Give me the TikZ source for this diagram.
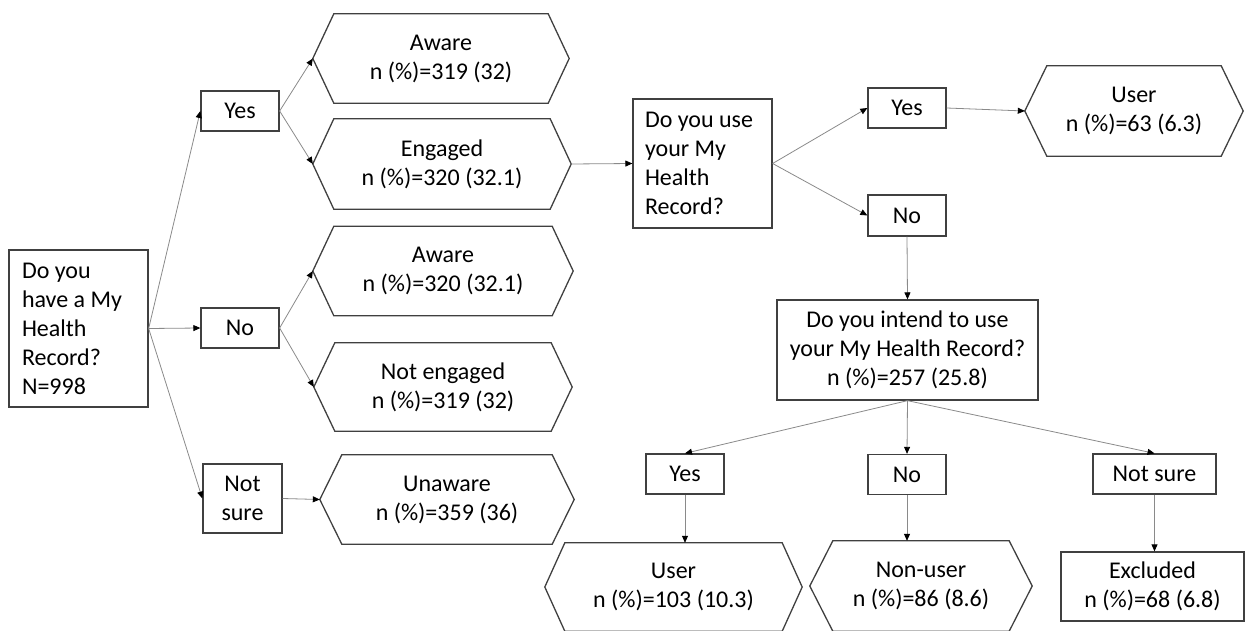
\documentclass[tikz,border=0pt]{standalone}
\usepackage{fontspec}
\setmainfont{Carlito}
\usetikzlibrary{arrows.meta}
\definecolor{boxc}{HTML}{404040}
\definecolor{linec}{HTML}{8A8A8A}
\newcommand\hexframe[2]{\draw[hexline] (#1.west) -- ([xshift=#2pt]#1.north west) -- ([xshift=-#2pt]#1.north east) -- (#1.east) -- ([xshift=-#2pt]#1.south east) -- ([xshift=#2pt]#1.south west) -- cycle;}
\tikzset{
  lab/.style={inner sep=0pt, align=center, font=\fontsize{24}{29}\selectfont},
  box/.style={lab, draw=boxc, line width=1.3pt},
  hexnode/.style={lab},
  hexline/.style={draw=boxc, line width=1.3pt, line join=miter},
  conn/.style={draw=linec, line width=0.8pt, -{Triangle[length=7pt,width=6pt,color=black]}}
}
\begin{document}
\begin{tikzpicture}[x=1pt,y=-1pt]
\useasboundingbox (0,0) rectangle (1245,631);
% left question
\node[box, align=flush left, text width=113pt, inner xsep=13pt, minimum height=157pt] (q1) at (78.5,328.5) {Do you\\have a My\\Health\\Record?\\N=998};
\node[box, minimum width=78pt, minimum height=40pt] (yes1) at (240,111) {Yes};
\node[box, minimum width=78pt, minimum height=40pt] (no1) at (240,328) {No};
\node[box, minimum width=79pt, minimum height=69pt] (ns1) at (242.5,498.5) {Not\\sure};
% hexagons column
\node[hexnode, minimum width=256pt, minimum height=89pt] (aw1) at (441,58.5) {Aware\\n (\%)=319 (32)};
\node[hexnode, minimum width=258pt, minimum height=90pt] (eng) at (442,164) {Engaged\\n (\%)=320 (32.1)};
\node[hexnode, minimum width=260pt, minimum height=89pt] (aw2) at (443,271) {Aware\\n (\%)=320 (32.1)};
\node[hexnode, minimum width=258pt, minimum height=88pt] (noteng) at (443,387) {Not engaged\\n (\%)=319 (32)};
\node[hexnode, minimum width=254pt, minimum height=89pt] (unaw) at (447,499.5) {Unaware\\n (\%)=359 (36)};
\hexframe{aw1}{21}
\hexframe{eng}{21}
\hexframe{aw2}{21}
\hexframe{noteng}{21}
\hexframe{unaw}{22}
% second question
\node[box, align=flush left, text width=115pt, inner xsep=12pt, minimum height=129pt] (q2) at (702.5,163.5) {Do you use\\your My\\Health\\Record?};
\node[box, minimum width=78pt, minimum height=40pt] (yes2) at (907,108) {Yes};
\node[box, minimum width=78pt, minimum height=41pt] (no2) at (907,215.5) {No};
\node[hexnode, minimum width=218pt, minimum height=90pt] (user1) at (1134,111) {User\\n (\%)=63 (6.3)};
\hexframe{user1}{22}
% third question
\node[box, minimum width=261pt, minimum height=100pt] (q3) at (907.5,350) {Do you intend to use\\your My Health Record?\\n (\%)=257 (25.8)};
\node[box, minimum width=78pt, minimum height=40pt] (yes3) at (685,474) {Yes};
\node[box, minimum width=78pt, minimum height=40pt] (no3) at (907,474.5) {No};
\node[box, minimum width=123pt, minimum height=40pt] (ns3) at (1154.5,474) {Not sure};
\node[hexnode, minimum width=257pt, minimum height=88pt] (user3) at (673.5,587) {User\\n (\%)=103 (10.3)};
\node[hexnode, minimum width=222pt, minimum height=90pt] (nonuser) at (921,586) {Non-user\\n (\%)=86 (8.6)};
\hexframe{user3}{20}
\hexframe{nonuser}{23}
\node[box, minimum width=183pt, minimum height=69pt] (excl) at (1152.5,586.5) {Excluded\\n (\%)=68 (6.8)};
% connectors
\draw[conn] (q1.east) -- (yes1.west);
\draw[conn] (q1.east) -- (no1.west);
\draw[conn] (q1.east) -- (ns1.west);
\draw[conn] (yes1.east) -- (aw1.west);
\draw[conn] (yes1.east) -- (eng.west);
\draw[conn] (no1.east) -- (aw2.west);
\draw[conn] (no1.east) -- (noteng.west);
\draw[conn] (ns1.east) -- (unaw.west);
\draw[conn] (eng.east) -- (q2.west);
\draw[conn] (q2.east) -- (yes2.west);
\draw[conn] (q2.east) -- (no2.west);
\draw[conn] (yes2.east) -- (user1.west);
\draw[conn] (no2.south) -- (q3.north);
\draw[conn] (q3.south) -- (yes3.north);
\draw[conn] (q3.south) -- (no3.north);
\draw[conn] (q3.south) -- (ns3.north);
\draw[conn] (yes3.south) -- (yes3.south |- user3.north);
\draw[conn] (no3.south) -- (no3.south |- nonuser.north);
\draw[conn] (ns3.south) -- (ns3.south |- excl.north);
\end{tikzpicture}
\end{document}
